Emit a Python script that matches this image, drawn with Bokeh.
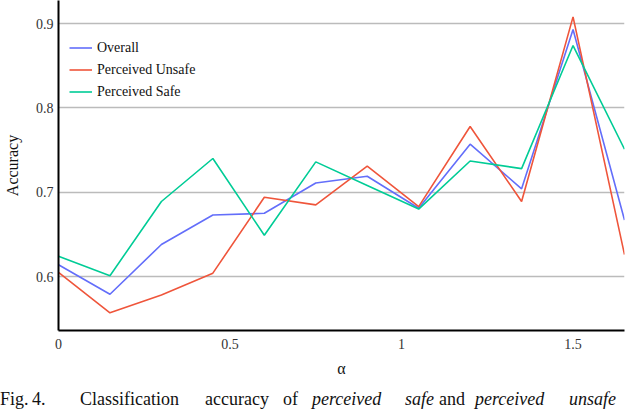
from bokeh.plotting import figure
from bokeh.models import Range1d, FixedTicker, Legend, LegendItem, Div, CustomJSTickFormatter
from bokeh.layouts import column
from bokeh.embed import file_html
from bokeh.resources import INLINE

alpha = [0.0, 0.15, 0.3, 0.45, 0.6, 0.75, 0.9, 1.05, 1.2, 1.35, 1.5, 1.65]
overall = [0.614, 0.579, 0.638, 0.673, 0.675, 0.711, 0.719, 0.681, 0.757, 0.704, 0.893, 0.667]
unsafe = [0.605, 0.557, 0.578, 0.604, 0.694, 0.685, 0.731, 0.683, 0.778, 0.689, 0.908, 0.626]
safe = [0.624, 0.601, 0.689, 0.740, 0.649, 0.736, 0.708, 0.680, 0.737, 0.728, 0.874, 0.751]
series_names = ["Overall", "Perceived Unsafe", "Perceived Safe"]
colors = ["#636EFA", "#EF553B", "#00CC96"]
x_ticks = [0, 0.5, 1, 1.5]
y_ticks = [0.6, 0.7, 0.8, 0.9]
caption_words = [("Fig.", "normal"), ("4.", "normal"), ("Classification", "normal"),
                 ("accuracy", "normal"), ("of", "normal"), ("perceived", "italic"),
                 ("safe", "italic"), ("and", "normal"), ("perceived", "italic"),
                 ("unsafe", "italic")]

FONT = "Liberation Serif"

p = figure(width=632, height=388, output_backend="svg", toolbar_location=None,
           x_range=Range1d(0, 1.65), y_range=Range1d(0.536, 0.9274),
           min_border_left=49, min_border_right=8, min_border_top=0, min_border_bottom=58)
p.outline_line_color = None
p.background_fill_color = "white"

renderers = []
for vals, c in zip([overall, unsafe, safe], colors):
    r = p.line(alpha, vals, line_color=c, line_width=1.6)
    renderers.append(r)

p.xaxis.ticker = FixedTicker(ticks=x_ticks)
p.yaxis.ticker = FixedTicker(ticks=y_ticks)
p.xaxis.formatter = CustomJSTickFormatter(code="return String(tick);")
for ax in (p.xaxis[0], p.yaxis[0]):
    ax.axis_line_color = "black"
    ax.axis_line_width = 2
    ax.major_tick_out = 0
    ax.major_tick_in = 0
    ax.minor_tick_out = 0
    ax.minor_tick_in = 0
    ax.major_label_text_font = FONT
    ax.major_label_text_font_size = "14px"
    ax.major_label_text_color = "#333333"
    ax.axis_label_text_font = FONT
    ax.axis_label_text_font_style = "normal"
    ax.axis_label_text_color = "#111111"
    ax.axis_label_text_font_size = "16px"
p.xaxis.axis_label = "α"
p.yaxis.axis_label = "Accuracy"
p.xaxis.major_label_standoff = 8
p.xaxis.axis_label_standoff = 8
p.yaxis.major_label_standoff = 5
p.yaxis.axis_label_standoff = 12

p.xgrid.grid_line_color = None
p.ygrid.grid_line_color = "#bbbbbb"
p.ygrid.grid_line_width = 1.5

legend = Legend(items=[LegendItem(label=n, renderers=[r]) for n, r in zip(series_names, renderers)],
                location=(11, 228), orientation="vertical")
legend.border_line_color = None
legend.background_fill_alpha = 0
legend.padding = 0
legend.margin = 0
legend.spacing = 1
legend.glyph_width = 23
legend.glyph_height = 21
legend.label_height = 21
legend.label_standoff = 5
legend.label_text_font = FONT
legend.label_text_font_size = "14px"
legend.label_text_color = "#111111"
p.add_layout(legend, "center")

# caption below the chart (word positions follow the justified caption of the reference)
word_left = [0, 32, 80, 205, 283, 312, 405, 439, 475, 569]
spans = "".join(
    f'<span style="position:absolute;left:{x}px;top:2px;font-style:{st};">{w}</span>'
    for (w, st), x in zip(caption_words, word_left))
caption = Div(text=f'<div style="position:relative;width:632px;height:22px;'
                   f'font-family:\'Liberation Serif\',\'DejaVu Serif\',serif;font-size:18px;'
                   f'line-height:18px;color:#111;white-space:nowrap;">{spans}</div>',
              width=632, height=22, margin=(0, 0, 0, 0))

layout = column(p, caption, spacing=0)
open("out.html", "w").write(file_html(layout, INLINE))
